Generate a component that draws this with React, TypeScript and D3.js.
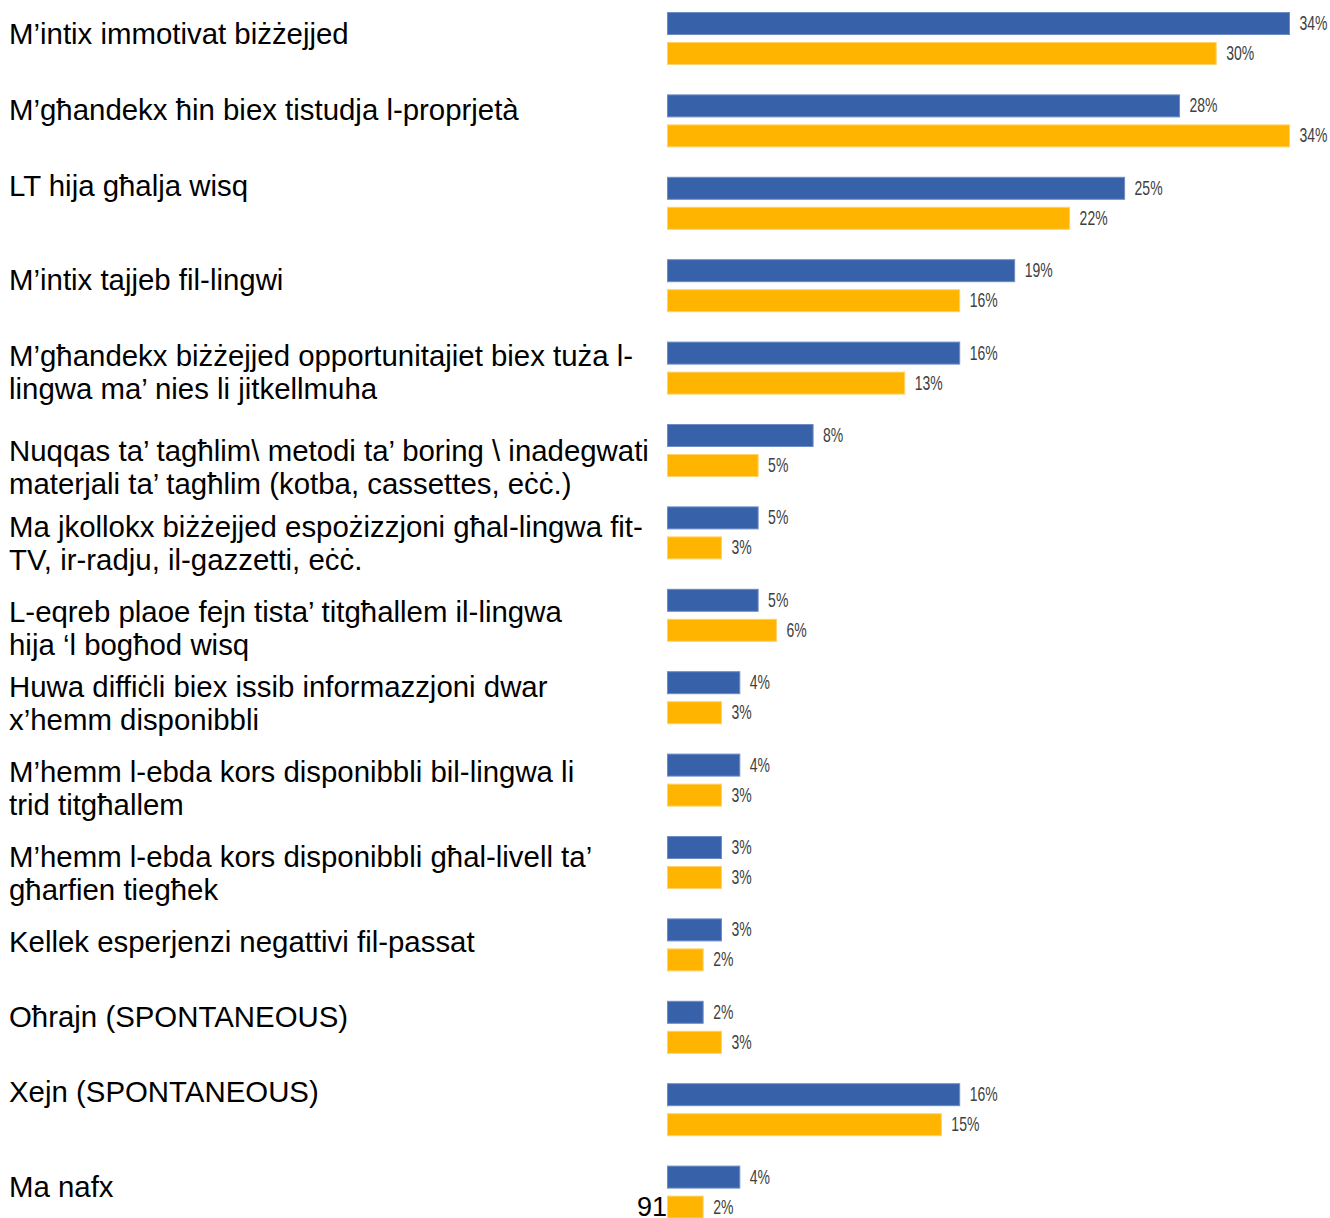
import React, { useEffect, useRef } from "react";
import * as d3 from "d3";

const categories: string[][] = [
  ["M’intix immotivat biżżejjed"],
  ["M’għandekx ħin biex tistudja l-proprjetà"],
  ["LT hija għalja wisq"],
  ["M’intix tajjeb fil-lingwi"],
  ["M’għandekx biżżejjed opportunitajiet biex tuża l-", "lingwa ma’ nies li jitkellmuha"],
  ["Nuqqas ta’ tagħlim\\ metodi ta’ boring \\ inadegwati", "materjali ta’ tagħlim (kotba, cassettes, eċċ.)"],
  ["Ma jkollokx biżżejjed espożizzjoni għal-lingwa fit-", "TV, ir-radju, il-gazzetti, eċċ."],
  ["L-eqreb plaoe fejn tista’ titgħallem il-lingwa", "hija ‘l bogħod wisq"],
  ["Huwa diffiċli biex issib informazzjoni dwar", "x’hemm disponibbli"],
  ["M’hemm l-ebda kors disponibbli bil-lingwa li", "trid titgħallem"],
  ["M’hemm l-ebda kors disponibbli għal-livell ta’", "għarfien tiegħek"],
  ["Kellek esperjenzi negattivi fil-passat"],
  ["Oħrajn (SPONTANEOUS)"],
  ["Xejn (SPONTANEOUS)"],
  ["Ma nafx"],
];

const seriesBlue: number[] = [34, 28, 25, 19, 16, 8, 5, 5, 4, 4, 3, 3, 2, 16, 4];
const seriesOrange: number[] = [30, 34, 22, 16, 13, 5, 3, 6, 3, 3, 3, 2, 3, 15, 2];
const seriesKeys = ["blue", "orange"];
const pageNumber = "91";

// layout (text-box baselines of the category labels, as placed on the slide)
const labelBaselines = [44, 120, 196, 290, 366, 461, 537, 622, 697, 782, 867, 952, 1027, 1102, 1197];

const W = 1330;
const H = 1218;

export default function App() {
  const ref = useRef<SVGSVGElement | null>(null);

  useEffect(() => {
    const svg = d3.select(ref.current);
    svg.selectAll("*").remove();

    const idx = categories.map((_, i) => String(i));
    const y0 = d3.scaleBand<string>().domain(idx).range([12, 12 + 82.4 * categories.length]).paddingInner(0).paddingOuter(0);
    const y1 = d3.scaleBand<string>().domain(seriesKeys).range([0, 53]).paddingInner(7 / 30).paddingOuter(0);
    const x = d3.scaleLinear().domain([0, 34]).range([667, 1290]);

    const colors: Record<string, string> = { blue: "#3761A9", orange: "#FFB400" };
    const strokes: Record<string, string> = { blue: "#6E8CC6", orange: "#FFD26A" };

    // page number (behind bars)
    svg.append("text")
      .attr("x", 637).attr("y", 1216)
      .attr("font-family", "'Liberation Sans', Arial, sans-serif")
      .attr("font-size", 27)
      .attr("fill", "#000")
      .text(pageNumber);

    // category labels
    const lab = svg.append("g")
      .attr("font-family", "'Liberation Sans', Arial, sans-serif")
      .attr("font-size", 29.4)
      .attr("fill", "#000");
    categories.forEach((lines, i) => {
      const t = lab.append("text").attr("x", 9).attr("y", labelBaselines[i]);
      lines.forEach((ln, j) => {
        t.append("tspan").attr("x", 9).attr("dy", j === 0 ? 0 : 33).text(ln);
      });
    });

    const rows = categories.map((_, i) => ({ i, blue: seriesBlue[i], orange: seriesOrange[i] }));
    const g = svg.append("g");
    rows.forEach((r) => {
      seriesKeys.forEach((k) => {
        const v = (r as any)[k] as number;
        const yy = (y0(String(r.i)) as number) + (y1(k) as number);
        const bw = y1.bandwidth();
        g.append("rect")
          .attr("x", x(0) + 0.5)
          .attr("y", yy + 0.5)
          .attr("width", x(v) - x(0) - 1)
          .attr("height", bw - 1)
          .attr("fill", colors[k])
          .attr("stroke", strokes[k])
          .attr("stroke-width", 1);
        const lx = x(v) + 9.5;
        const ly = yy + bw / 2 + 6.5;
        g.append("text")
          .attr("transform", `translate(${lx},${ly}) scale(0.7,1)`)
          .attr("font-family", "'Liberation Sans', Arial, sans-serif")
          .attr("font-size", 20)
          .attr("fill", "#404040")
          .text(`${v}%`);
      });
    });
  }, []);

  return (
    <svg
      ref={ref}
      width={W}
      height={H}
      style={{ position: "absolute", left: 0, top: 0, background: "#fff", display: "block" }}
    />
  );
}
